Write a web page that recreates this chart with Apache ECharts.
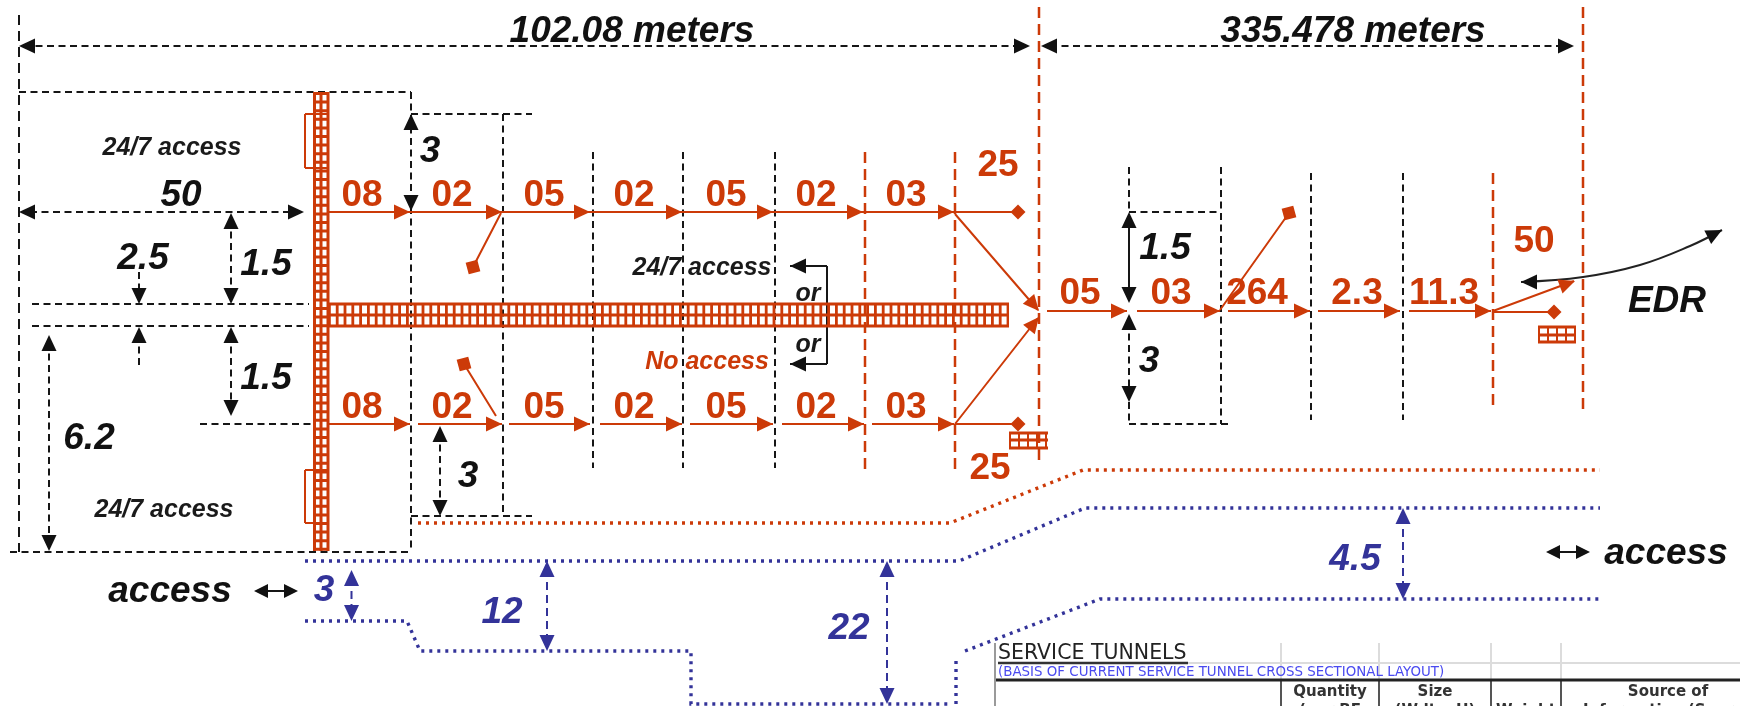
<!DOCTYPE html>
<html>
<head>
<meta charset="utf-8">
<style>html,body{margin:0;padding:0;background:#fff}#c{width:1740px;height:706px}</style>
<script src="https://cdn.jsdelivr.net/npm/echarts@6/dist/echarts.min.js"></script>
</head>
<body>
<div id="c"></div>
<script>
const RED = '#cc3a08', BLUE = '#333399', INK = '#161616';

// ---- dimension lines: [x1, y1, x2, y2]
const longDashBlack = [[19,15,19,552]];
const dashBlack = [
  [24,46,1015,46],[1050,46,1560,46],[19,92,411,92],[411,92,411,552],
  [411,114,532,114],[503,114,503,516],[411,516,532,516],
  [30,212,295,212],[32,304,309,304],[32,326,309,326],[200,424,314,424],[10,552,411,552],
  [139,272,139,296],[139,335,139,368],[231,220,231,296],[231,335,231,408],[49,342,49,544],
  [440,433,440,508],
  [593,152,593,468],[683,152,683,468],[775,152,775,468],
  [1129,167,1129,212],[1129,212,1221,212],[1221,167,1221,424],[1129,402,1129,424],[1129,424,1228,424],
  [1311,173,1311,420],[1403,173,1403,420],[1129,322,1129,394]
];
const dashRed = [
  [865,152,865,470],[955,152,955,470],[1039,7,1039,466],[1493,173,1493,409],[1583,7,1583,410]
];
const solidBlack = [[790,266,827,266],[827,266,827,364],[827,364,790,364],[1129,220,1129,295],
  [260,591,292,591],[1552,552,1584,552]];
const dashBlue = [[351.5,578,351.5,614],[547,569,547,644],[887,569,887,697],[1403,516,1403,592]];
const edrCurve = [[1521,282],[1583,277],[1640,265],[1690,246],[1722,230]];

// ---- conductors
const redRuns = [
  [328,212,1018,212],[328,424,410,424],[418,424,502,424],[509,424,590,424],[600,424,682,424],
  [690,424,773,424],[782,424,864,424],[872,424,954,424],[955,424,1018,424],
  [955,214,1038,310],[955,424,1038,318],
  [1047,311,1127,311],[1137,311,1220,311],[1228,311,1310,311],[1318,311,1400,311],[1409,311,1491,311],
  [1493,312,1554,312],[1493,311,1574,281],
  [501,213,473,267],[496,416,464,364],[1220,310,1289,213],
  [305,114,328,114],[305,114,305,168],[305,168,328,168],[305,470,328,470],[305,470,305,523],[305,523,328,523]
];
const busRails = [
  [314.5,92,314.5,551],[321,92,321,551],[328,92,328,551],
  [328,304,1009,304],[328,315,1009,315],[328,326,1009,326],
  [1009,433,1048,433],[1009,440,1048,440],[1009,448,1048,448],
  [1538,327,1576,327],[1538,335,1576,335],[1538,342,1576,342]
];
const busTicksH = [[328,315,1009,315]];
const busTicksV = [[321,92,321,551]];
const busTicksSmall = [[1009,440.5,1048,440.5],[1538,334.5,1576,334.5]];

// ---- dotted envelopes: polylines of [x, y]
const redDotted = [[[418,523],[950,523],[1083,470],[1600,470]]];
const blueDotted = [
  [[305,561],[959,561],[1085,508],[1600,508]],
  [[305,621],[407,621],[420,651],[691,651],[691,704],[950,704]],
  [[956,704],[956,658]],
  [[965,651],[1100,599],[1600,599]]
];

// ---- arrowheads: [tipX, tipY, heading degrees, clockwise from +x]
const blackArrows = [
  [19,46,180],[1030,46,0],[1041,46,180],[1574,46,0],
  [19,212,180],[304,212,0],[411,114,270],[411,211,90],
  [139,304,90],[139,327,270],[231,213,270],[231,304,90],[231,327,270],[231,416,90],
  [49,335,270],[49,551,90],[440,426,270],[440,516,90],
  [790,266,180],[790,364,180],
  [1129,212,270],[1129,303,90],[1129,314,270],[1129,402,90],
  [1521,282,180],[1722,230,-27]
];
const smallBlackArrows = [[254,591,180],[298,591,0],[1546,552,180],[1590,552,0]];
const redArrows = [
  [410,212,0],[502,212,0],[590,212,0],[682,212,0],[773,212,0],[863,212,0],[954,212,0],
  [410,424,0],[502,424,0],[590,424,0],[682,424,0],[773,424,0],[864,424,0],[954,424,0],
  [1039,311,49],[1039,317,-51],
  [1127,311,0],[1220,311,0],[1310,311,0],[1400,311,0],[1491,311,0],[1575,281,-20]
];
const blueArrows = [
  [351.5,570,270],[351.5,621,90],[547,561,270],[547,651,90],[887,561,270],[887,704,90],
  [1403,508,270],[1403,599,90]
];
const diamonds = [[1018,212],[1018,424],[1554,312]];
const squares = [[473,267],[464,364],[1289,213]];

// ---- text: [x, y, text]
const redNumbers = [
  [362,196,'08'],[452,196,'02'],[544,196,'05'],[634,196,'02'],[726,196,'05'],[816,196,'02'],[906,196,'03'],
  [998,166,'25'],
  [362,408,'08'],[452,408,'02'],[544,408,'05'],[634,408,'02'],[726,408,'05'],[816,408,'02'],[906,408,'03'],
  [990,469,'25'],
  [1080,294,'05'],[1171,294,'03'],[1257,294,'264'],[1357,294,'2.3'],[1444,294,'11.3'],[1534,242,'50']
];
const blackBig = [
  [632,32,'102.08 meters'],[1353,32,'335.478 meters'],
  [181,196,'50'],[143,259,'2.5'],[266,265,'1.5'],[266,379,'1.5'],[89,439,'6.2'],
  [430,152,'3'],[468,477,'3'],[1165,249,'1.5'],[1149,362,'3'],
  [170,592,'access'],[1666,554,'access'],[1667,302,'EDR']
];
const blackSmall = [
  [172,148,'24/7 access'],[164,510,'24/7 access'],[702,268,'24/7 access'],
  [808,294,'or'],[808,345,'or']
];
const redSmall = [[707,362,'No access']];
const blueBig = [[324,591,'3'],[502,613,'12'],[849,629,'22'],[1355,560,'4.5']];
const tableTitle = [[998,654,'SERVICE TUNNELS']];
const tableNote = [[998,673,'(BASIS OF CURRENT SERVICE TUNNEL CROSS SECTIONAL LAYOUT)']];
const tableHead = [
  [1330,692,'Quantity'],[1435,692,'Size'],[1668,692,'Source of'],
  [1330,711,'(per BE'],[1435,711,'(Wdt x H)'],[1526,711,'Weight'],[1668,711,'Information (Source']
];
const tableLight = [[1281,643,1281,680],[1379,643,1379,680],[1491,643,1491,680],[1561,643,1561,680],[1188,663,1740,663]];
const tableDark = [[1281,680,1281,706],[1379,680,1379,706],[1491,680,1491,706],[1561,680,1561,706]];
const tableEdge = [[995,643,995,706]];
const tableRule = [[996,680,1740,680]];
const titleUnderline = [[998,663,1188,663]];

// ---- builders
const joinSegs = s => s.flatMap(a => [[a[0],a[1]],[a[2],a[3]],[null,null]]);
const joinPolys = p => p.flatMap(a => [...a,[null,null]]);
const line = (data, color, width, dash, z, extra) => Object.assign({
  type:'line', data, showSymbol:false, symbol:'none', silent:true, z, animation:false, connectNulls:false,
  lineStyle:{color, width, type: dash || 'solid', cap:'butt', join:'miter'}
}, extra || {});
const arrows = (list, color, w, len) => ({
  type:'scatter', symbol:'triangle', symbolSize:[w,len], silent:true, z:6, animation:false,
  itemStyle:{color, opacity:1},
  data:list.map(([x,y,h]) => {
    const r = h*Math.PI/180;
    return {value:[x-Math.cos(r)*len/2, y-Math.sin(r)*len/2], symbolRotate:-(h+90)};
  })
});
const marks = (list, symbol, size, rot) => ({
  type:'scatter', symbol, symbolSize:size, symbolRotate:rot, silent:true, z:5, animation:false,
  itemStyle:{color:RED, opacity:1}, data:list
});
const F = '"Liberation Sans", Arial, sans-serif';
const text = (list, color, size, style, weight, family, align) => ({
  type:'scatter', symbolSize:1, silent:true, z:8, animation:false, clip:false,
  itemStyle:{color:'transparent', opacity:1}, data:list, labelLayout:{hideOverlap:false},
  label:{show:true, position:'inside', formatter:p => p.data[2], color, opacity:1,
    fontSize:size, fontStyle:style, fontWeight:weight, fontFamily:family||F,
    align:align||'center', verticalAlign:'middle'}
});

const chart = echarts.init(document.getElementById('c'), null, {renderer:'canvas'});
chart.setOption({
  animation:false,
  backgroundColor:'#ffffff',
  grid:{left:0, right:0, top:0, bottom:0, containLabel:false},
  tooltip:{show:false},
  xAxis:{type:'value', min:0, max:1740, show:false},
  yAxis:{type:'value', min:0, max:706, inverse:true, show:false},
  series:[
    line(joinSegs(tableLight),'#dcdcdc',2,null,1),
    line(joinSegs(tableDark),'#555555',2,null,1),
    line(joinSegs(tableEdge),'#9a9a9a',2,null,1),
    line(joinSegs(tableRule),'#222222',3,null,1),
    line(joinSegs(titleUnderline),'#333333',2.5,null,1),
    line(joinSegs(longDashBlack),INK,2,[10,6],2),
    line(joinSegs(dashBlack),INK,2,[7,4.5],2),
    line(joinSegs(dashRed),RED,2.5,[11,6],2),
    line(joinSegs(dashBlue),BLUE,2,[8,5],2),
    line(joinSegs(solidBlack),INK,2,null,3),
    line(edrCurve,'#222222',2,null,3,{smooth:0.4}),
    line(joinPolys(redDotted),RED,3.4,[3,5],3),
    line(joinPolys(blueDotted),BLUE,3.4,[3,5],3),
    line(joinSegs(busRails),RED,3,null,4),
    line(joinSegs(busTicksH),RED,22,[2.8,5],4),
    line(joinSegs(busTicksV),RED,14,[3,5.6],4),
    line(joinSegs(busTicksSmall),RED,15,[2,7],4),
    line(joinSegs(redRuns),RED,2,null,5),
    arrows(blackArrows,'#111111',15,16),
    arrows(smallBlackArrows,'#111111',14,14),
    arrows(redArrows,RED,15,16),
    arrows(blueArrows,BLUE,15,16),
    marks(diamonds,'diamond',15,0),
    marks(squares,'rect',12,15),
    text(redNumbers,RED,37,'normal','bold'),
    text(blackBig,'#111111',37,'italic','bold'),
    text(blackSmall,'#1a1a1a',25,'italic','bold'),
    text(redSmall,RED,25,'italic','bold'),
    text(blueBig,BLUE,37,'italic','bold'),
    text(tableTitle,'#222222',20.5,'normal','normal','"DejaVu Sans"','left'),
    text(tableNote,'#4a4af0',13.4,'normal','normal','"DejaVu Sans"','left'),
    text(tableHead,'#333333',15,'normal','bold','"DejaVu Sans"')
  ]
});
</script>
</body>
</html>
